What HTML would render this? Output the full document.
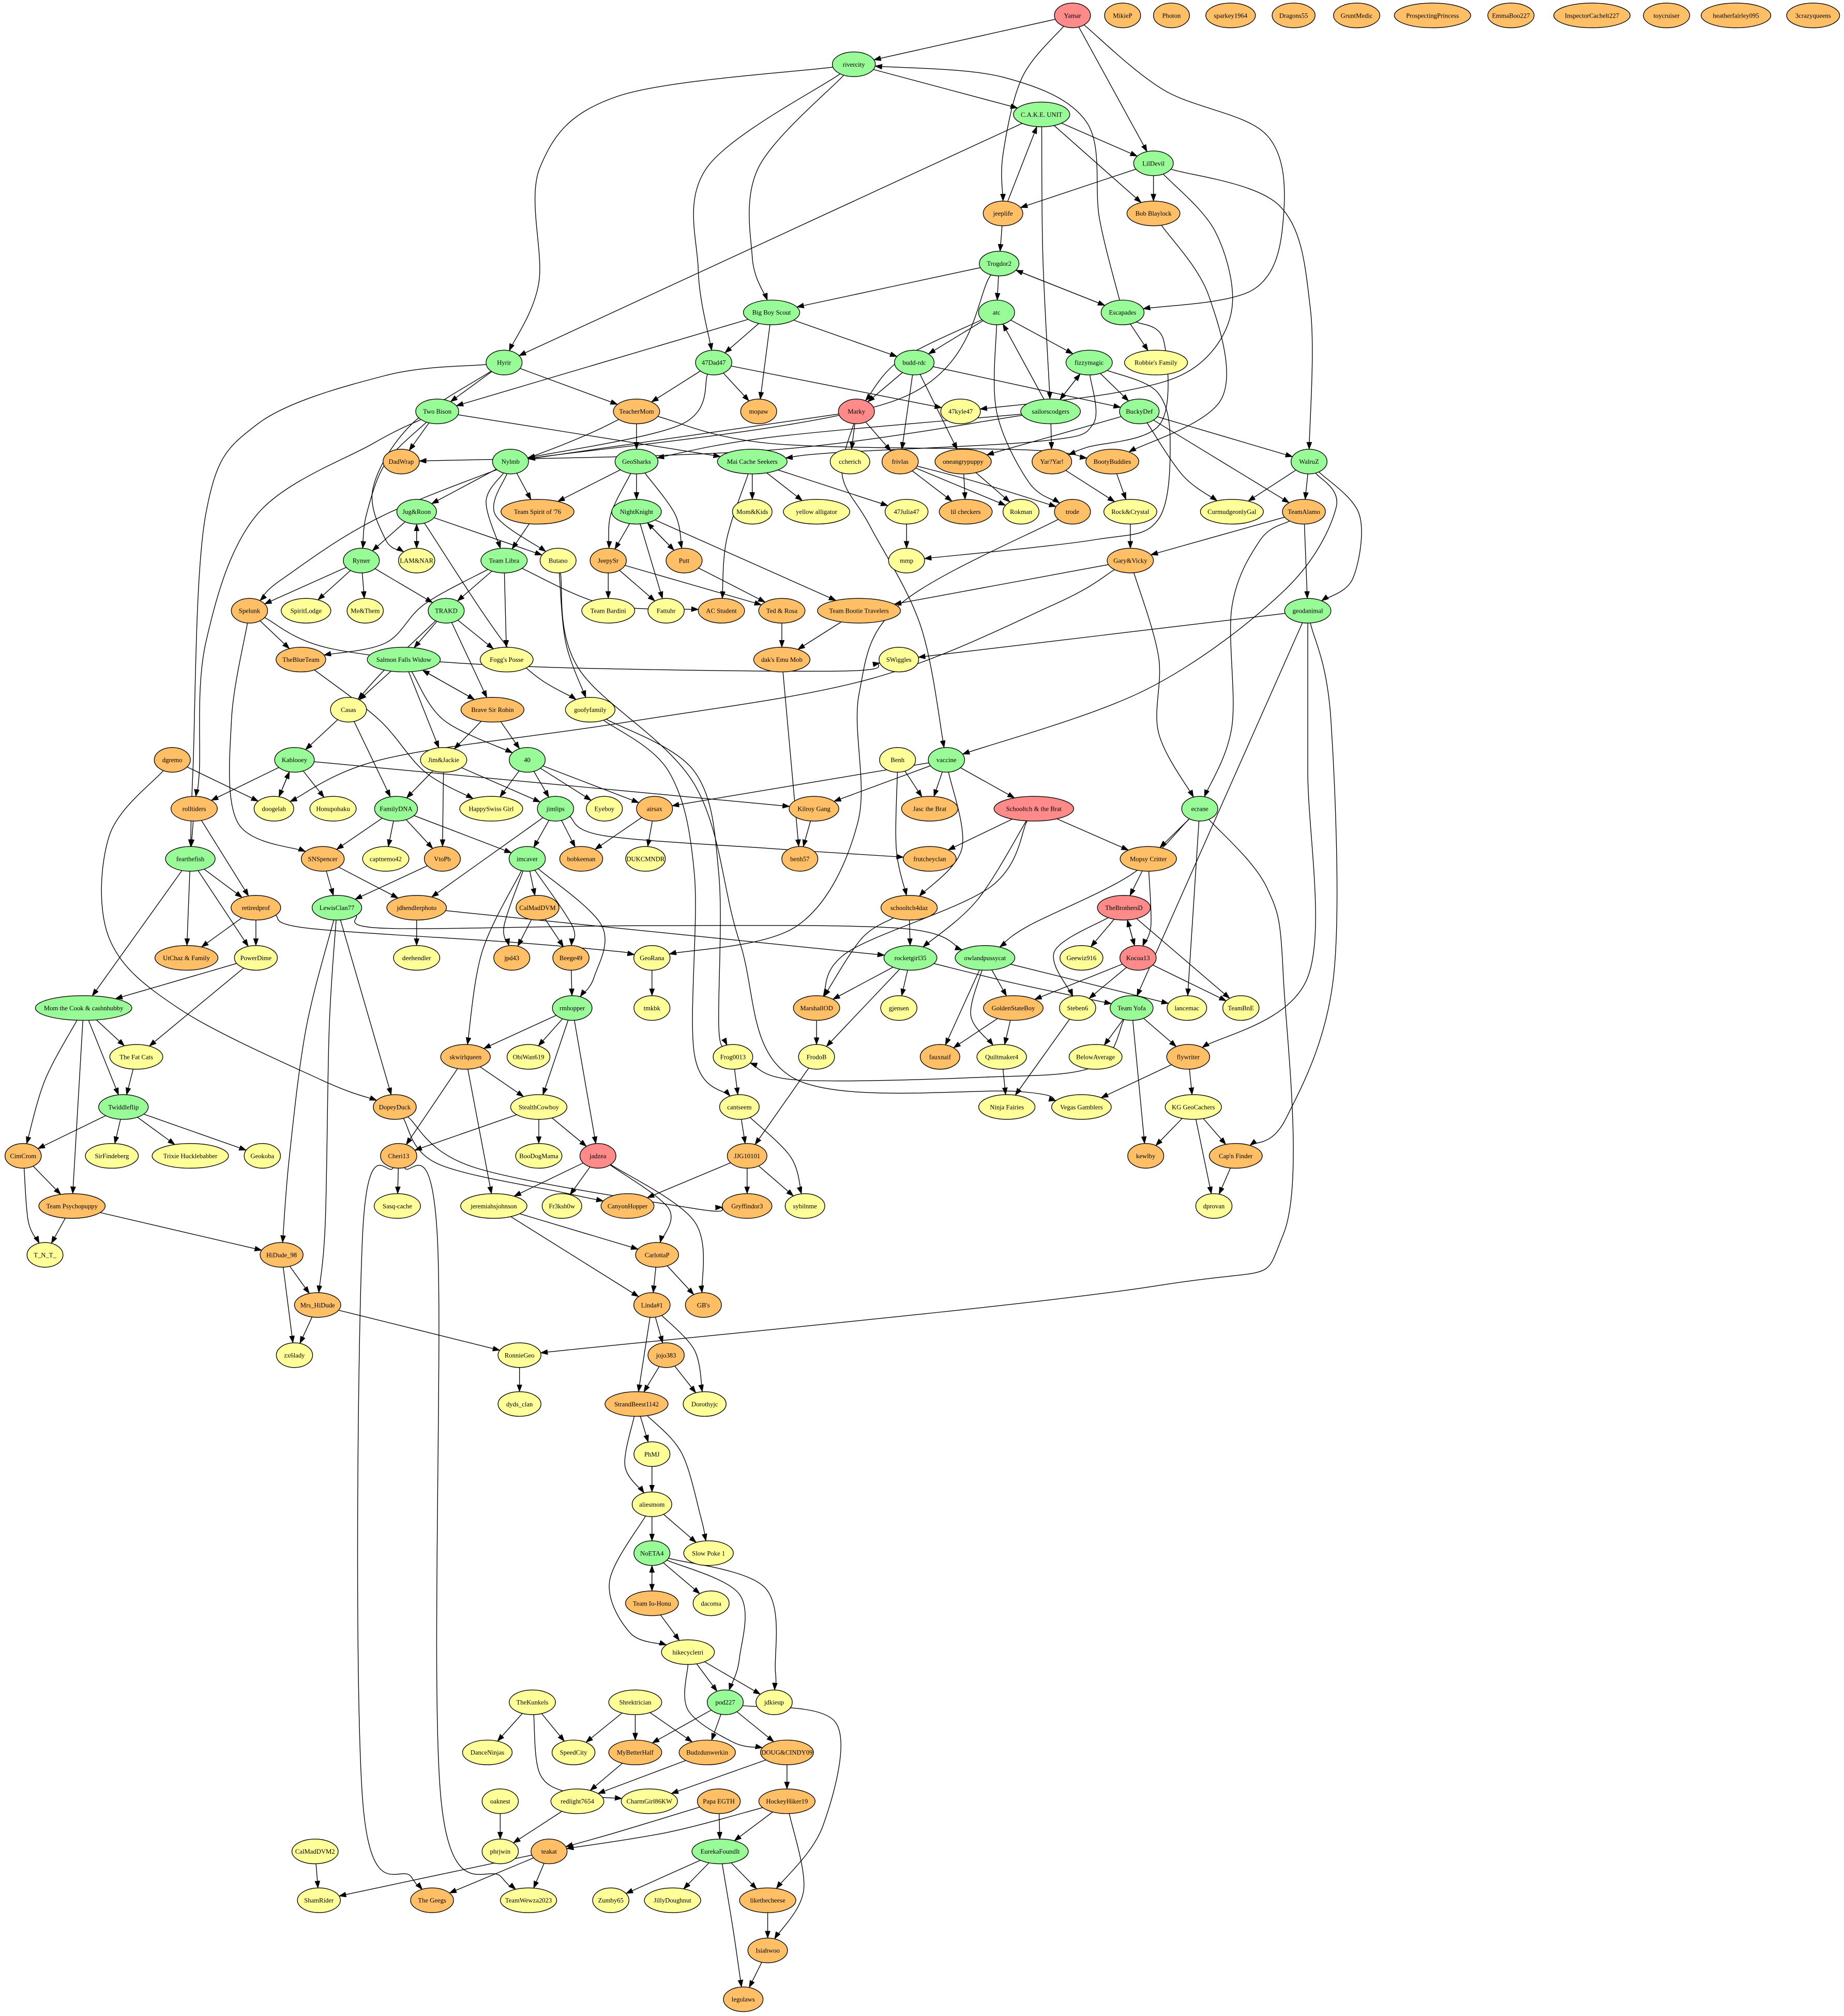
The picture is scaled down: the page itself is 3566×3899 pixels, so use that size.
<!DOCTYPE html>
<html><head><meta charset="utf-8">
<style>
html,body{margin:0;padding:0;background:#fff;}
svg{display:block;}
text{font-family:"Liberation Serif",serif;font-size:5.1px;}
</style></head>
<body>
<svg id="g" xmlns="http://www.w3.org/2000/svg" width="3566" height="3899" viewBox="0 0 1434 1568" preserveAspectRatio="none">
<defs><marker id="ah" markerUnits="userSpaceOnUse" markerWidth="8" markerHeight="6" refX="5.5" refY="2" orient="auto"><path d="M0,0 L5.5,2 L0,4 z" fill="#000" stroke="#000" stroke-width="0.3"/></marker></defs>
<g id="E"></g><g id="N"></g>
</svg>
<script>
const C={g:"#98fb98",o:"#ffbf66",y:"#ffff99",r:"#ff8a8a"};
const ND=`Yamar|834|12|r
MikieP|873|12|o
Photon|911|12|o
sparkey1964|957|12|o
Dragons55|1006|12|o
GruntMedic|1055|12|o
ProspectingPrincess|1114|12|o
EmmaBoo227|1175|12|o
InspectorCachelt227|1238|12|o
toycruiser|1296|12|o
heatherfairley095|1350|12|o
3crazyqueens|1410|12|o
rivercity|664|50|g
C.A.K.E. UNIT|810|89|g
LilDevil|897|127|g
jeeplife|780|166|o
Bob Blaylock|897|166|o
Trogdor2|777|205|g
Big Boy Scout|600|243|g
atc|775|243|g
Escapades|873|243|g
Hyrir|392|282|g
47Dad47|555|282|g
budd-rdc|711|282|g
fizzymagic|847|282|g
Robbie's Family|899|282|y
Two Bison|340|320|g
TeacherMom|495|320|o
mopaw|590|320|o
Marky|666|320|r
47kyle47|747|320|y
sailorscodgers|817|320|g
BuckyDef|886|320|g
DadWrap|312|359|o
Nylmb|397|359|g
GeoSharks|495|359|g
Mai Cache Seekers|585|359|g
ccherich|661|359|y
frivlas|700|359|o
oneangrypuppy|749|359|o
Yar?Yar!|818|359|o
BootyBuddies|865|359|o
WalruZ|1018|359|g
Jug&Roon|324|398|g
Team Spirit of '76|418|398|o
NightKnight|495|398|g
Mom&Kids|585|398|y
yellow alligator|635|398|y
47Julia47|705|398|y
lil checkers|751|398|o
Rokman|794|398|y
trode|834|398|o
Rock&Crystal|879|398|y
CurmudgeonlyGal|958|398|y
TeamAlamo|1014|398|o
Rymer|281|436|g
LAM&NAR|324|436|y
Team Libra|392|436|g
Butano|434|436|y
JeepySr|473|436|o
Putt|532|436|o
mmp|705|436|y
Gary&Vicky|879|436|o
Spelunk|194|475|o
SpiritLodge|238|475|y
Me&Them|284|475|y
TRAKD|347|475|g
Team Bardini|473|475|y
Fattuhr|518|475|y
AC Student|561|475|o
Ted & Rosa|608|475|o
Team Bootie Travelers|668|475|o
geodanimal|1017|475|g
TheBlueTeam|234|513|o
Salmon Falls Widow|314|513|g
Fogg's Posse|394|513|y
dak's Emu Mob|608|513|o
SWiggles|699|513|y
Casas|271|552|y
Brave Sir Robin|383|552|o
goofyfamily|459|552|y
dgremo|134|591|o
Kablooey|229|591|g
Jim&Jackie|345|591|y
40|410|591|g
Benh|698|591|y
vaccine|736|591|g
rolltiders|151|629|o
doogelah|213|629|y
Honupohaku|259|629|y
FamilyDNA|308|629|g
HappySwiss Girl|382|629|y
jimlips|432|629|g
Eyeboy|470|629|y
airsax|509|629|o
Kilroy Gang|633|629|o
Jasc the Brat|723|629|o
Schooltch & the Brat|804|629|r
ecrane|933|629|g
fearthefish|148|668|g
SNSpencer|251|668|o
captnemo42|300|668|y
VtoPb|344|668|o
imcaver|410|668|g
bobkeenan|452|668|o
DUKCMNDR|502|668|y
benh57|622|668|o
frutcheyclan|723|668|o
Mopsy Critter|893|668|o
retiredprof|199|706|o
LewisClan77|262|706|g
jdhendlerphoto|324|706|o
CalMadDVM|418|706|o
schooltch4daz|707|706|o
TheBrothersD|874|706|r
UtChaz & Family|145|745|o
PowerDime|199|745|y
deehendler|324|745|y
jpd43|398|745|o
Beege49|444|745|o
GeoRana|507|745|y
rocketgirl35|708|745|g
owlandpussycat|766|745|g
Geewiz916|841|745|y
Kocoa13|885|745|r
Mom the Cook & cashnhubby|65|784|g
rmhopper|445|784|g
tmkbk|507|784|y
MarshallOD|635|784|o
gjensen|699|784|y
GoldenStateBoy|788|784|o
Steben6|838|784|y
Team Yofa|880|784|g
lancemac|923|784|y
TeamBnE|965|784|y
The Fat Cats|106|822|y
skwirlqueen|362|822|o
ObiWan619|411|822|y
Frog0013|570|822|y
FrodoB|635|822|y
fauxnaif|731|822|o
Quiltmaker4|779|822|y
BelowAverage|852|822|y
flywriter|924|822|o
Twiddleflip|96|861|g
DopeyDuck|307|861|o
StealthCowboy|419|861|y
cantseem|575|861|y
Ninja Fairies|783|861|y
Vegas Gamblers|841|861|y
KG GeoCachers|928|861|y
CimCrom|18|899|o
SirFindeberg|87|899|y
Trixie Hucklebabber|148|899|y
Geokoba|204|899|y
Cheri13|310|899|o
BooDogMama|419|899|y
jadzea|465|899|r
JJG10101|581|899|o
kewlby|891|899|o
Cap'n Finder|961|899|o
Team Psychopuppy|56|938|o
Sasq-cache|309|938|y
jeremiahsjohnson|384|938|y
Fr3ksh0w|437|938|y
CanyonHopper|488|938|o
Gryffindor3|581|938|o
sybilnme|626|938|y
dprovan|944|938|y
T_N_T_|35|976|y
HiDude_98|219|976|o
CarlottaP|511|976|o
Mrs_HiDude|247|1015|o
Linda#1|507|1015|o
GB's|547|1015|o
zx6lady|229|1054|y
RonnieGeo|404|1054|y
jojo383|518|1054|o
dyds_clan|404|1092|y
StrandBeest1142|495|1092|o
Dorothyjc|548|1092|y
PhMJ|507|1131|y
aliesmom|507|1170|y
NoETA4|507|1208|g
Slow Poke 1|551|1208|y
Team Io-Honu|507|1247|o
dacoma|553|1247|y
hikecycletri|535|1285|y
TheKunkels|414|1324|y
Shrektrician|494|1324|y
pod227|564|1324|g
jdkieup|602|1324|y
DanceNinjas|379|1363|y
SpeedCity|446|1363|y
MyBetterHalf|494|1363|o
Budzdunwerkin|550|1363|o
DOUG&CINDY09|612|1363|o
oaknest|389|1401|y
redlight7654|449|1401|y
CharmGirl86KW|505|1401|y
Papa EGTH|559|1401|o
HockeyHiker19|612|1401|o
CalMadDVM2|245|1440|y
phrjwin|389|1440|y
teakat|427|1440|o
EurekaFoundIt|560|1440|g
ShamRider|248|1478|y
The Geegs|336|1478|o
TeamWewza2023|411|1478|y
Zumby65|475|1478|y
JillyDoughnut|523|1478|y
likethecheese|597|1478|o
Isiahwoo|597|1517|o
legolaws|578|1555|o`;
const E=[
["Yamar","rivercity"],["Yamar","jeeplife",[[795,60],[780,120]]],["Yamar","LilDevil"],["Yamar","Escapades",[[905,70],[985,105],[998,170],[975,225]]],
["rivercity","C.A.K.E. UNIT"],["rivercity","Hyrir",[[480,75],[420,130],[419,220]]],["rivercity","47Dad47",[[550,130],[543,210]]],["rivercity","Big Boy Scout",[[590,130],[585,200]]],
["C.A.K.E. UNIT","LilDevil"],["C.A.K.E. UNIT","Bob Blaylock"],["C.A.K.E. UNIT","Hyrir"],["C.A.K.E. UNIT","sailorscodgers",[[811,200]]],
["jeeplife","C.A.K.E. UNIT"],["LilDevil","jeeplife"],["LilDevil","Bob Blaylock"],["LilDevil","47kyle47",[[945,180],[958,240],[930,285],[870,305]]],["LilDevil","WalruZ",[[995,160],[1019,240]]],
["Bob Blaylock","BootyBuddies",[[940,230],[950,310]]],["Escapades","rivercity",[[855,170],[845,95],[780,60]]],
["jeeplife","Trogdor2"],["Trogdor2","Escapades"],["Escapades","Trogdor2"],["Trogdor2","Big Boy Scout"],["Trogdor2","atc"],["Trogdor2","Nylmb",[[700,310]]],
["Big Boy Scout","47Dad47"],["Big Boy Scout","mopaw"],["Big Boy Scout","budd-rdc"],["Big Boy Scout","Two Bison"],
["atc","budd-rdc"],["atc","fizzymagic"],["atc","Marky",[[700,280]]],["atc","trode",[[775,320],[800,375]]],["sailorscodgers","atc"],
["fizzymagic","sailorscodgers"],["sailorscodgers","fizzymagic"],["fizzymagic","BuckyDef"],["fizzymagic","Mai Cache Seekers",[[850,330],[810,343],[650,352]]],
["fizzymagic","mmp",[[900,305],[910,345],[900,405],[850,420]]],["Escapades","Robbie's Family"],["Escapades","Yar?Yar!",[[905,265],[902,330],[845,348]]],
["budd-rdc","Marky"],["budd-rdc","frivlas"],["budd-rdc","oneangrypuppy"],["budd-rdc","BuckyDef"],
["47Dad47","TeacherMom"],["47Dad47","mopaw"],["47Dad47","47kyle47"],["47Dad47","Nylmb",[[530,330]]],
["Hyrir","Two Bison"],["Hyrir","TeacherMom"],["Hyrir","fearthefish",[[300,292],[200,330],[160,400],[150,600]]],["Hyrir","LAM&NAR",[[320,330],[290,380],[300,420]]],
["Two Bison","DadWrap"],["Two Bison","Mai Cache Seekers"],["Two Bison","Rymer",[[300,360],[285,400]]],["Two Bison","rolltiders",[[290,345],[200,400],[160,500],[155,600]]],
["TeacherMom","GeoSharks"],["TeacherMom","BootyBuddies",[[600,345],[800,350]]],["TeacherMom","Spelunk",[[440,345],[300,400],[220,450]]],
["Marky","ccherich"],["Marky","frivlas"],["Marky","vaccine",[[655,370],[677,410],[716,487]]],["Marky","Nylmb"],
["sailorscodgers","DadWrap",[[600,350]]],["sailorscodgers","GeoSharks",[[600,340]]],["sailorscodgers","Yar?Yar!"],
["BuckyDef","WalruZ"],["BuckyDef","CurmudgeonlyGal",[[920,370]]],["BuckyDef","TeamAlamo"],["BuckyDef","oneangrypuppy"],
["Nylmb","Jug&Roon"],["Nylmb","Team Spirit of '76"],["Nylmb","Team Libra",[[378,390]]],["Nylmb","Butano",[[385,400]]],
["GeoSharks","Team Spirit of '76"],["GeoSharks","NightKnight"],["GeoSharks","JeepySr",[[475,400]]],["GeoSharks","Putt",[[525,400]]],
["Mai Cache Seekers","Mom&Kids"],["Mai Cache Seekers","yellow alligator"],["Mai Cache Seekers","47Julia47"],["Mai Cache Seekers","AC Student",[[565,420]]],
["frivlas","lil checkers"],["frivlas","Rokman"],["frivlas","trode",[[760,375]]],["oneangrypuppy","lil checkers"],["oneangrypuppy","Rokman"],
["Yar?Yar!","Rock&Crystal"],["BootyBuddies","Rock&Crystal"],
["WalruZ","CurmudgeonlyGal"],["WalruZ","TeamAlamo"],["WalruZ","geodanimal",[[1057,400],[1052,450]]],["WalruZ","vaccine",[[1039,395],[999,459],[892,536]]],
["TeamAlamo","Gary&Vicky"],["TeamAlamo","geodanimal"],["TeamAlamo","ecrane",[[980,420],[958,472],[958,565]]],
["Rock&Crystal","Gary&Vicky"],["Gary&Vicky","Team Bootie Travelers"],["Gary&Vicky","ecrane",[[901,511],[901,570]]],["Gary&Vicky","doogelah",[[820,470],[677,528],[485,562],[300,590]]],
["47Julia47","mmp"],["trode","GeoRana",[[700,470],[668,540],[667,640],[620,720]]],
["Jug&Roon","Rymer"],["Jug&Roon","LAM&NAR"],["LAM&NAR","Jug&Roon"],["Jug&Roon","Butano"],["Jug&Roon","goofyfamily",[[400,510]]],
["Team Spirit of '76","Team Libra"],
["NightKnight","JeepySr"],["NightKnight","Fattuhr"],["NightKnight","Putt"],["Putt","NightKnight"],["NightKnight","Team Bootie Travelers"],
["JeepySr","Team Bardini"],["JeepySr","Fattuhr"],["JeepySr","Ted & Rosa"],["Putt","Ted & Rosa"],
["Team Libra","TRAKD"],["Team Libra","Fogg's Posse"],["Team Libra","AC Student",[[470,470]]],["Team Libra","TheBlueTeam",[[330,470],[300,500]]],
["Butano","goofyfamily",[[440,500]]],["Butano","Vegas Gamblers",[[450,520],[540,610],[575,732],[618,839],[793,849]]],
["Rymer","Spelunk"],["Rymer","SpiritLodge"],["Rymer","Me&Them"],["Rymer","TRAKD"],
["TRAKD","Salmon Falls Widow"],["TRAKD","Fogg's Posse"],["TRAKD","Brave Sir Robin"],["TRAKD","Casas",[[300,520]]],
["Spelunk","TheBlueTeam"],["Spelunk","SWiggles",[[260,505],[400,518],[650,522]]],["Spelunk","SNSpencer",[[180,560],[185,640]]],
["Ted & Rosa","dak's Emu Mob"],["Team Bootie Travelers","dak's Emu Mob"],
["geodanimal","SWiggles"],["geodanimal","Team Yofa"],["geodanimal","flywriter",[[1017,600],[1017,760]]],["geodanimal","Cap'n Finder",[[1035,560],[1037,760],[1000,870]]],
["dak's Emu Mob","benh57"],
["Salmon Falls Widow","Casas"],["Salmon Falls Widow","Brave Sir Robin"],["Brave Sir Robin","Salmon Falls Widow"],["Salmon Falls Widow","Jim&Jackie"],["Salmon Falls Widow","40",[[345,560]]],
["Brave Sir Robin","Jim&Jackie"],["Brave Sir Robin","40"],
["TheBlueTeam","HappySwiss Girl",[[295,560],[330,600]]],["Casas","Kablooey"],["Casas","FamilyDNA"],
["goofyfamily","Frog0013",[[540,600],[559,680],[559,800]]],["goofyfamily","cantseem",[[520,600],[540,680],[540,820]]],
["Jim&Jackie","FamilyDNA"],["Jim&Jackie","VtoPb"],["Jim&Jackie","jimlips"],
["40","HappySwiss Girl"],["40","jimlips"],["40","Eyeboy"],["40","airsax"],
["Kablooey","rolltiders"],["Kablooey","doogelah"],["doogelah","Kablooey"],["Kablooey","Honupohaku"],["Kablooey","Kilroy Gang"],
["dgremo","doogelah"],["dgremo","DopeyDuck",[[85,650],[85,730],[140,785],[250,840]]],
["Benh","Jasc the Brat"],["Benh","schooltch4daz",[[697,660]]],
["vaccine","Jasc the Brat"],["vaccine","Kilroy Gang"],["vaccine","airsax"],["vaccine","Schooltch & the Brat"],["vaccine","schooltch4daz",[[748,660]]],
["FamilyDNA","SNSpencer"],["FamilyDNA","captnemo42"],["FamilyDNA","VtoPb"],["FamilyDNA","imcaver"],
["jimlips","imcaver"],["jimlips","bobkeenan"],["jimlips","jdhendlerphoto"],["jimlips","frutcheyclan",[[470,650],[600,660]]],
["airsax","bobkeenan"],["airsax","DUKCMNDR"],["Kilroy Gang","benh57"],
["Schooltch & the Brat","frutcheyclan"],["Schooltch & the Brat","Mopsy Critter"],["Schooltch & the Brat","rocketgirl35",[[760,700]]],["Schooltch & the Brat","MarshallOD",[[770,690],[660,740]]],
["ecrane","Mopsy Critter"],["ecrane","owlandpussycat",[[880,680],[800,720]]],["ecrane","lancemac"],["ecrane","RonnieGeo",[[985,690],[998,760],[998,960],[900,1000]]],
["rolltiders","fearthefish"],["rolltiders","retiredprof"],
["fearthefish","retiredprof"],["fearthefish","UtChaz & Family"],["fearthefish","PowerDime"],["fearthefish","Mom the Cook & cashnhubby"],
["SNSpencer","LewisClan77"],["SNSpencer","jdhendlerphoto"],["VtoPb","LewisClan77"],
["imcaver","CalMadDVM"],["imcaver","jpd43",[[392,720]]],["imcaver","Beege49",[[445,720]]],["imcaver","rmhopper",[[468,720],[462,760]]],["imcaver","skwirlqueen",[[375,740]]],
["Mopsy Critter","TheBrothersD"],["Mopsy Critter","Kocoa13",[[895,720]]],
["schooltch4daz","rocketgirl35"],["schooltch4daz","MarshallOD",[[670,730]]],
["retiredprof","UtChaz & Family"],["retiredprof","PowerDime"],["retiredprof","GeoRana",[[240,722],[400,733],[480,740]]],
["LewisClan77","owlandpussycat",[[300,722],[500,720],[700,722]]],["LewisClan77","HiDude_98",[[238,800],[225,900]]],["LewisClan77","Mrs_HiDude",[[256,800],[253,950]]],["LewisClan77","DopeyDuck"],
["jdhendlerphoto","deehendler"],["jdhendlerphoto","rocketgirl35"],
["CalMadDVM","jpd43"],["CalMadDVM","Beege49"],
["TheBrothersD","Geewiz916"],["TheBrothersD","Kocoa13"],["Kocoa13","TheBrothersD"],["TheBrothersD","TeamBnE"],["TheBrothersD","Steben6",[[820,740]]],
["Beege49","rmhopper"],["GeoRana","tmkbk"],
["rocketgirl35","MarshallOD"],["rocketgirl35","gjensen"],["rocketgirl35","FrodoB"],["rocketgirl35","Team Yofa",[[790,765]]],
["owlandpussycat","GoldenStateBoy"],["owlandpussycat","fauxnaif"],["owlandpussycat","Quiltmaker4",[[755,790]]],["owlandpussycat","lancemac"],
["Kocoa13","GoldenStateBoy"],["Kocoa13","Steben6"],["Kocoa13","TeamBnE"],
["PowerDime","Mom the Cook & cashnhubby"],["PowerDime","The Fat Cats"],
["Mom the Cook & cashnhubby","The Fat Cats"],["Mom the Cook & cashnhubby","Twiddleflip"],["Mom the Cook & cashnhubby","CimCrom",[[35,840]]],["Mom the Cook & cashnhubby","Team Psychopuppy"],
["rmhopper","skwirlqueen"],["rmhopper","ObiWan619"],["rmhopper","StealthCowboy"],["rmhopper","jadzea"],
["MarshallOD","FrodoB"],["GoldenStateBoy","fauxnaif"],["GoldenStateBoy","Quiltmaker4"],["Steben6","Ninja Fairies"],
["Team Yofa","Frog0013",[[850,830],[760,838],[620,840]]],["Team Yofa","BelowAverage"],["Team Yofa","flywriter"],["Team Yofa","kewlby"],
["The Fat Cats","Twiddleflip"],
["skwirlqueen","StealthCowboy"],["skwirlqueen","Cheri13"],["skwirlqueen","jeremiahsjohnson"],
["Frog0013","cantseem"],["FrodoB","JJG10101"],["Quiltmaker4","Ninja Fairies"],["flywriter","Vegas Gamblers"],["flywriter","KG GeoCachers"],
["Twiddleflip","CimCrom"],["Twiddleflip","SirFindeberg"],["Twiddleflip","Trixie Hucklebabber"],["Twiddleflip","Geokoba"],
["DopeyDuck","CanyonHopper",[[340,905],[440,928]]],["DopeyDuck","Gryffindor3",[[369,908],[540,940]]],
["StealthCowboy","BooDogMama"],["StealthCowboy","Cheri13"],["StealthCowboy","jadzea"],
["cantseem","JJG10101"],["cantseem","sybilnme",[[615,900]]],
["KG GeoCachers","kewlby"],["KG GeoCachers","Cap'n Finder"],["KG GeoCachers","dprovan"],["Cap'n Finder","dprovan"],
["CimCrom","Team Psychopuppy"],["CimCrom","T_N_T_",[[22,950]]],
["Cheri13","Sasq-cache"],["Cheri13","The Geegs",[[282,960],[282,1400],[320,1460]]],["Cheri13","TeamWewza2023",[[340,960],[343,1400],[390,1460]]],
["jadzea","jeremiahsjohnson"],["jadzea","Fr3ksh0w"],["jadzea","CarlottaP",[[520,940]]],["jadzea","GB's",[[540,950]]],
["JJG10101","CanyonHopper"],["JJG10101","Gryffindor3"],["JJG10101","sybilnme"],
["Team Psychopuppy","T_N_T_"],["Team Psychopuppy","HiDude_98"],
["jeremiahsjohnson","CarlottaP"],["jeremiahsjohnson","Linda#1"],
["HiDude_98","Mrs_HiDude"],["HiDude_98","zx6lady"],["Mrs_HiDude","zx6lady"],["Mrs_HiDude","RonnieGeo"],
["CarlottaP","Linda#1"],["CarlottaP","GB's"],
["Linda#1","jojo383"],["Linda#1","StrandBeest1142"],["Linda#1","Dorothyjc",[[540,1050]]],["jojo383","StrandBeest1142"],["jojo383","Dorothyjc"],
["RonnieGeo","dyds_clan"],
["StrandBeest1142","PhMJ"],["StrandBeest1142","aliesmom",[[486,1140]]],["StrandBeest1142","Slow Poke 1",[[530,1130],[545,1180]]],
["PhMJ","aliesmom"],["aliesmom","NoETA4"],["aliesmom","Slow Poke 1"],["aliesmom","hikecycletri",[[474,1230],[490,1270]]],
["NoETA4","Team Io-Honu"],["Team Io-Honu","NoETA4"],["NoETA4","dacoma"],["NoETA4","pod227",[[575,1240],[575,1290]]],["NoETA4","jdkieup",[[595,1235],[603,1300]]],
["Team Io-Honu","hikecycletri"],
["hikecycletri","pod227"],["hikecycletri","jdkieup"],["hikecycletri","DOUG&CINDY09",[[535,1330],[570,1355]]],
["TheKunkels","DanceNinjas"],["TheKunkels","SpeedCity"],["TheKunkels","CharmGirl86KW",[[420,1380],[445,1395]]],
["Shrektrician","SpeedCity"],["Shrektrician","MyBetterHalf"],["Shrektrician","Budzdunwerkin"],
["pod227","MyBetterHalf"],["pod227","Budzdunwerkin"],["pod227","DOUG&CINDY09"],["pod227","likethecheese",[[650,1340],[640,1420]]],
["MyBetterHalf","redlight7654"],["Budzdunwerkin","redlight7654"],["DOUG&CINDY09","CharmGirl86KW"],["DOUG&CINDY09","HockeyHiker19"],
["oaknest","phrjwin"],["redlight7654","phrjwin"],
["Papa EGTH","teakat",[[480,1425]]],["Papa EGTH","EurekaFoundIt"],["HockeyHiker19","teakat",[[520,1425]]],["HockeyHiker19","EurekaFoundIt"],["HockeyHiker19","Isiahwoo",[[625,1470]]],
["CalMadDVM2","ShamRider"],["teakat","ShamRider"],["teakat","The Geegs"],["teakat","TeamWewza2023"],
["EurekaFoundIt","Zumby65"],["EurekaFoundIt","JillyDoughnut"],["EurekaFoundIt","likethecheese"],["EurekaFoundIt","legolaws",[[570,1500]]],
["likethecheese","Isiahwoo"],["Isiahwoo","legolaws"]
];
const NS="http://www.w3.org/2000/svg";
const svg=document.getElementById("g"),EG=document.getElementById("E"),NG=document.getElementById("N");
const nodes={};
ND.split("\n").forEach(l=>{const p=l.split("|");nodes[p[0]]={x:+p[1],y:+p[2],c:C[p[3]]};});
for(const k in nodes){nodes[k].rx=Math.max(14,k.length*1.3+5);nodes[k].ry=9.6;}
function clip(n,px,py){const dx=px-n.x,dy=py-n.y;const t=1/Math.sqrt((dx/n.rx)**2+(dy/n.ry)**2);return [n.x+dx*t,n.y+dy*t];}
E.forEach(e=>{const a=nodes[e[0]],b=nodes[e[1]];if(!a||!b){return;}
 const v=e[2]||[];const pts=[[a.x,a.y],...v,[b.x,b.y]];
 pts[0]=clip(a,pts[1][0],pts[1][1]);const m=pts.length;pts[m-1]=clip(b,pts[m-2][0],pts[m-2][1]);
 let d="M"+pts[0][0].toFixed(2)+","+pts[0][1].toFixed(2);
 for(let i=0;i<m-1;i++){const p0=pts[i-1]||pts[i],p1=pts[i],p2=pts[i+1],p3=pts[i+2]||pts[i+1];
  const c1=[p1[0]+(p2[0]-p0[0])/6,p1[1]+(p2[1]-p0[1])/6],c2=[p2[0]-(p3[0]-p1[0])/6,p2[1]-(p3[1]-p1[1])/6];
  d+=" C"+c1[0].toFixed(2)+","+c1[1].toFixed(2)+" "+c2[0].toFixed(2)+","+c2[1].toFixed(2)+" "+p2[0].toFixed(2)+","+p2[1].toFixed(2);}
 const p=document.createElementNS(NS,"path");p.setAttribute("d",d);p.setAttribute("fill","none");p.setAttribute("stroke","#000");p.setAttribute("stroke-width","0.55");p.setAttribute("marker-end","url(#ah)");EG.appendChild(p);});
for(const k in nodes){const n=nodes[k];
 const el=document.createElementNS(NS,"ellipse");el.setAttribute("cx",n.x);el.setAttribute("cy",n.y);el.setAttribute("rx",n.rx.toFixed(2));el.setAttribute("ry",n.ry);el.setAttribute("fill",n.c);el.setAttribute("stroke","#000");el.setAttribute("stroke-width","0.55");NG.appendChild(el);
 const t=document.createElementNS(NS,"text");t.setAttribute("x",n.x);t.setAttribute("y",n.y+1.8);t.setAttribute("text-anchor","middle");t.textContent=k;NG.appendChild(t);}
</script>
</body></html>
